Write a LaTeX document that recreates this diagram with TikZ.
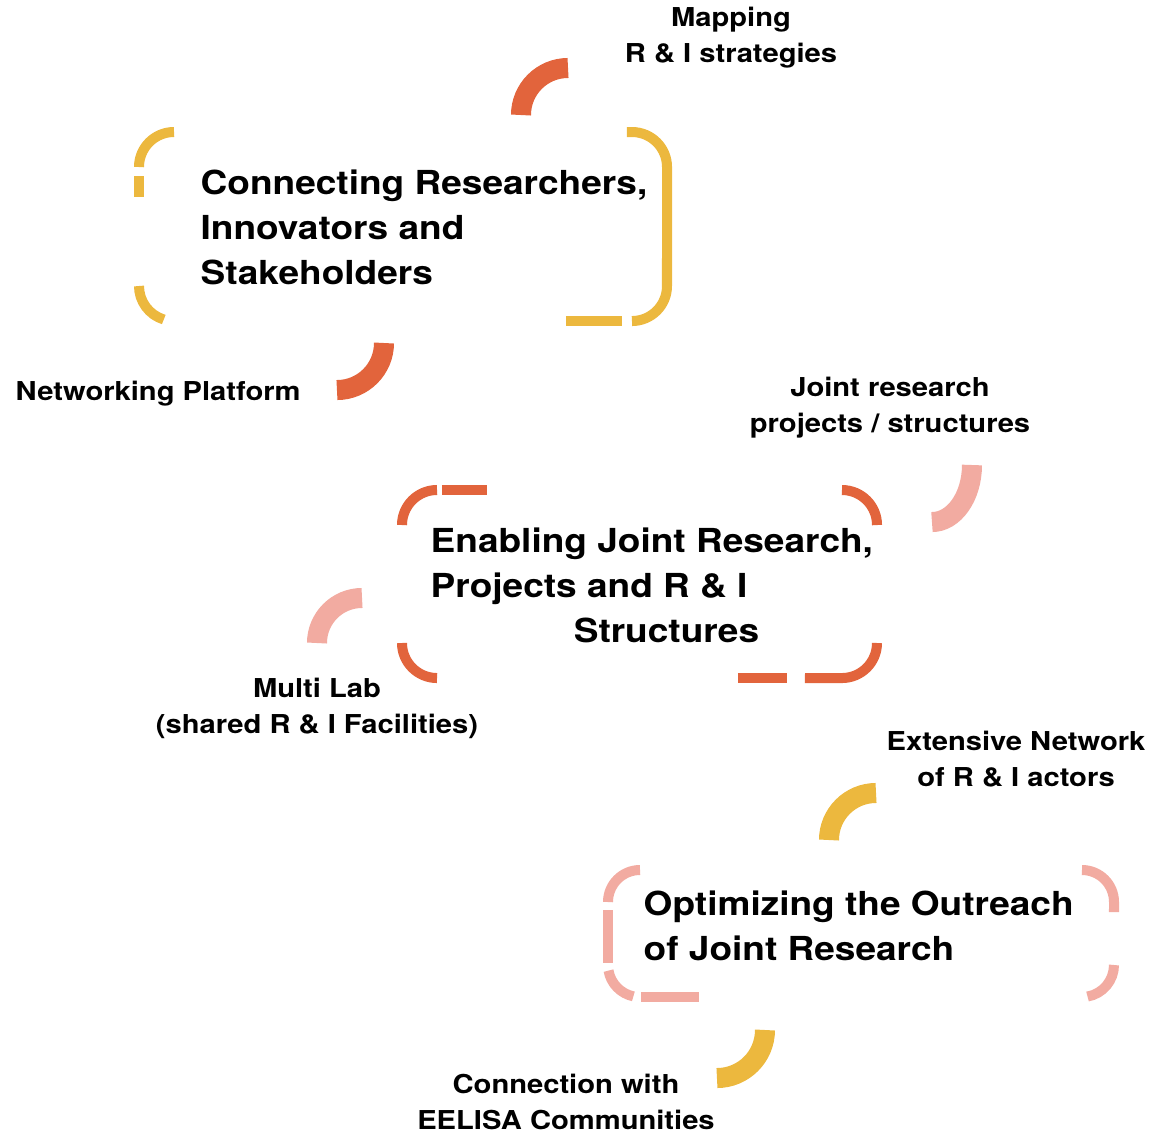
\documentclass[tikz,border=0pt]{standalone}
\usepackage{fontspec}
\setmainfont{TeX Gyre Heros}[FakeStretch=1.12]
\definecolor{gelb}{RGB}{236,184,62}
\definecolor{rot}{RGB}{226,100,60}
\definecolor{rosa}{RGB}{242,171,161}
\tikzset{
	rahmen/.style={line width=0.1cm},
	bogen/.style={line width=0.2cm},
	titel/.style={font=\fontsize{9.4}{12.8}\selectfont\bfseries,align=left,anchor=west,inner sep=0pt},
	beschriftung/.style={font=\fontsize{7.4}{10.2}\selectfont\bfseries,align=center,inner sep=0pt}
}
\def\h{0.01}
\def\punkt#1#2{
	({(#1)*\h},{(-#2)*\h})
}
\def\rahmeneins{
	\draw[rahmen,gelb] \punkt{139}{167} arc[start angle=180,end angle=90,radius=0.35];
	\draw[rahmen,gelb] \punkt{139}{176} -- \punkt{139}{197};
	\draw[rahmen,gelb] \punkt{139}{286} arc[start angle=180,end angle=253,radius=0.35];
	\draw[rahmen,gelb] \punkt{627}{132} -- \punkt{632}{132}
		arc[start angle=90,end angle=0,radius=0.35] -- \punkt{667}{286}
		arc[start angle=0,end angle=-90,radius=0.35];
	\draw[rahmen,gelb] \punkt{566}{321} -- \punkt{622}{321};
}
\def\rahmenzwei{
	\draw[rahmen,rot] \punkt{402}{525} arc[start angle=180,end angle=90,radius=0.35];
	\draw[rahmen,rot] \punkt{442}{490} -- \punkt{487}{490};
	\draw[rahmen,rot] \punkt{842}{490} arc[start angle=90,end angle=0,radius=0.35];
	\draw[rahmen,rot] \punkt{402}{643} arc[start angle=180,end angle=270,radius=0.35];
	\draw[rahmen,rot] \punkt{877}{643} arc[start angle=0,end angle=-90,radius=0.35]
		-- \punkt{805}{678};
	\draw[rahmen,rot] \punkt{738}{678} -- \punkt{787}{678};
}
\def\rahmendrei{
	\draw[rahmen,rosa] \punkt{608}{902} arc[start angle=180,end angle=90,radius=0.32];
	\draw[rahmen,rosa] \punkt{608}{910} -- \punkt{608}{963};
	\draw[rahmen,rosa] \punkt{608.5}{970.6} arc[start angle=190,end angle=258,radius=0.32];
	\draw[rahmen,rosa] \punkt{641}{997} -- \punkt{699}{997};
	\draw[rahmen,rosa] \punkt{1082}{870} arc[start angle=90,end angle=0,radius=0.32]
		-- \punkt{1114}{912};
	\draw[rahmen,rosa] \punkt{1114}{965} arc[start angle=0,end angle=-80,radius=0.32];
}

\begin{document}
\begin{tikzpicture}
\useasboundingbox \punkt{0}{0} rectangle \punkt{1150}{1132};
% Rahmen
\rahmeneins
\rahmenzwei
\rahmendrei
% Boegen
\draw[bogen,rot] \punkt{521}{115} arc[start angle=180,end angle=90,radius=0.47];
\draw[bogen,rot] \punkt{384}{343} arc[start angle=0,end angle=-90,radius=0.47];
\draw[bogen,rosa] \punkt{972}{465} arc[start angle=0,end angle=-90,x radius=0.40,y radius=0.57];
\draw[bogen,rosa] \punkt{317}{643} arc[start angle=180,end angle=90,radius=0.45];
\draw[bogen,gelb] \punkt{829}{840} arc[start angle=180,end angle=90,radius=0.47];
\draw[bogen,gelb] \punkt{765}{1030} arc[start angle=0,end angle=-90,radius=0.48];
% Titel
\node[titel] (verbinden) at \punkt{200}{227} {Connecting Researchers,\\Innovators and\\Stakeholders};
\node[titel] (ermoeglichen) at \punkt{430}{585} {Enabling Joint Research,\\Projects and R \& I\\\hspace*{40.7pt}Structures};
\node[titel] (optimieren) at \punkt{643}{926} {Optimizing the Outreach\\of Joint Research};
% Beschriftungen
\node[beschriftung] (kartierung) at \punkt{731}{38} {Mapping\\R \& I strategies};
\node[beschriftung,anchor=west] (netzwerk) at \punkt{15}{394} {Networking Platform};
\node[beschriftung] (projekte) at \punkt{890}{408} {Joint research\\projects / structures};
\node[beschriftung] (multilab) at \punkt{317}{708} {Multi Lab\\(shared R \& I Facilities)};
\node[beschriftung] (akteure) at \punkt{1016}{759} {Extensive Network\\of R \& I actors};
\node[beschriftung] (gemeinschaften) at \punkt{566}{1102} {Connection with\\EELISA Communities};
\end{tikzpicture}
\end{document}
